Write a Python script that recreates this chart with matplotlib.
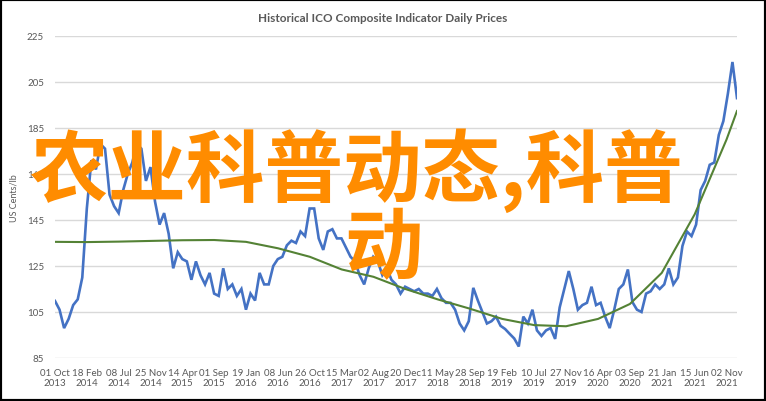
"""Historical ICO composite indicator chart with an orange text overlay."""

import matplotlib
matplotlib.use("Agg")
import matplotlib.pyplot as plt
import numpy as np
import pandas as pd
from matplotlib.patches import Rectangle

START = "2013-10-01"
STEP_DAYS = 20

# daily price, every ~20 days (US cents/lb)
price = [
    109.8, 106, 98, 102, 108, 110.5, 120, 150, 171, 167,
    178, 176, 156, 151, 148, 158, 165, 170, 178, 176,
    162, 168, 153, 143, 148, 139, 124, 131, 128, 127,
    119, 127, 121, 117, 122, 113, 112, 124, 115, 117,
    112, 115, 106, 113, 110, 122, 117, 117, 125, 128,
    129, 134, 136, 135, 140, 138, 150, 150, 137, 132,
    140, 141, 137, 137, 133, 129, 127, 121, 117, 124,
    129, 127, 121, 124, 119, 117, 113, 116, 115, 114,
    115, 113, 113, 112, 115, 111, 109, 109, 106, 100,
    97, 101, 115.5, 110, 105, 100, 101, 103, 99, 97.6,
    95.5, 93.5, 90, 103, 100, 106, 97, 94.6, 97, 98,
    93.3, 107, 115, 122.8, 115, 106, 108, 109, 116, 108,
    109, 103, 98, 106, 115, 117, 123.5, 109.3, 106, 105,
    113, 114, 117, 115, 117, 124, 117, 120, 133.7, 140,
    138, 143, 158, 162, 169, 170, 182, 188, 200, 213.7,
    198,
]

tick_labels = [
    "01 Oct 2013", "18 Feb 2014", "08 Jul 2014", "25 Nov 2014", "14 Apr 2015",
    "01 Sep 2015", "19 Jan 2016", "08 Jun 2016", "26 Oct 2016", "15 Mar 2017",
    "02 Aug 2017", "20 Dec 2017", "11 May 2018", "28 Sep 2018", "19 Feb 2019",
    "10 Jul 2019", "27 Nov 2019", "16 Apr 2020", "03 Sep 2020", "21 Jan 2021",
    "15 Jun 2021", "02 Nov 2021",
]

# polynomial trend, read at each tick date plus the last day
trend = [
    135.5, 135.4, 135.6, 135.9, 136.2, 136.3, 135.5, 132.7, 129, 123.5,
    120.3, 115, 110.5, 106.5, 102, 99.3, 98.8, 102, 108.5, 122,
    147.5, 180, 192.4,
]

y_ticks = [85, 105, 125, 145, 165, 185, 205, 225]

TITLE = "Historical ICO Composite Indicator Daily Prices"
OVERLAY_1 = "农业科普动态,科普"
OVERLAY_2 = "动"

GRAY = "#595959"
W, H = 766, 402

fig = plt.figure(figsize=(W / 100, H / 100), dpi=100)
ax = fig.add_axes([55 / W, 1 - 359 / H, (737 - 55) / W, (359 - 37) / H])

dates = pd.Timestamp(START) + pd.to_timedelta(np.arange(len(price)) * STEP_DAYS, unit="D")
tick_dates = pd.to_datetime(tick_labels, format="%d %b %Y")
trend_dates = list(tick_dates) + [dates[-1]]

ax.plot(dates, price, color="#4472C4", lw=1.9, solid_joinstyle="miter", zorder=3)
ax.plot(trend_dates, trend, color="#548235", lw=1.5, zorder=4)

ax.set_xlim(dates[0], dates[-1])
ax.set_ylim(85, 225)
ax.set_yticks(y_ticks)
ax.set_xticks(tick_dates)
ax.set_xticklabels([t.replace(" 20", "\n20") for t in tick_labels])
ax.yaxis.grid(True, color="#d9d9d9", lw=1)
ax.xaxis.grid(False)
for s in ax.spines.values():
    s.set_visible(False)
ax.tick_params(length=0, colors=GRAY, labelsize=7, labelfontfamily="Lato")
ax.tick_params(axis="y", pad=8)
ax.tick_params(axis="x", pad=7)
ax.set_ylabel("US Cents/lb", color=GRAY, fontsize=6.5, family="Lato", labelpad=6)

fig.text(0.5, 1 - 18 / H, TITLE, ha="center", va="center", color=GRAY,
         fontsize=8.5, fontweight="bold", family=["Liberation Sans Narrow", "Lato"])

cjk = ["Noto Sans CJK SC", "DejaVu Sans"]
fig.text(30 / W, 1 - 171 / H, OVERLAY_1, ha="left", va="center", color="#FF8C00",
         fontsize=56.5, fontweight="bold", family=cjk, zorder=10)
fig.text(344 / W, 1 - 250 / H, OVERLAY_2, ha="left", va="center", color="#FF8C00",
         fontsize=56.5, fontweight="bold", family=cjk, zorder=10)

fig.patches.append(Rectangle((0, 0), 1, 1, transform=fig.transFigure, fill=False,
                             edgecolor="black", lw=3, zorder=20))

fig.savefig("out.png", dpi=100)
